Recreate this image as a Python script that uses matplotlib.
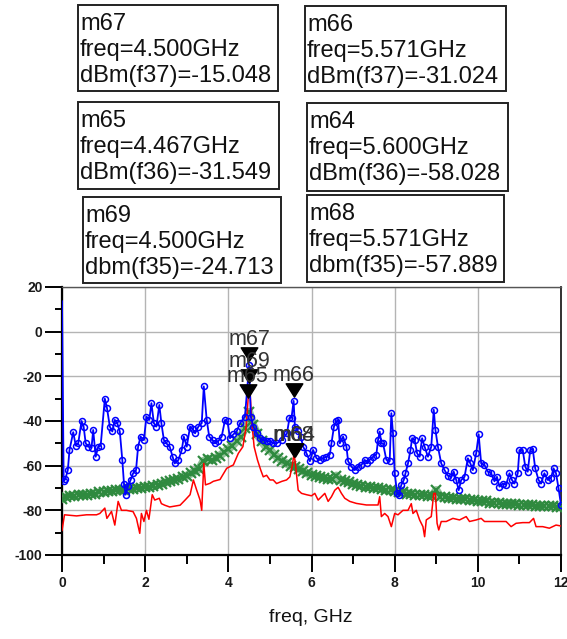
import matplotlib
matplotlib.use("Agg")
import matplotlib.pyplot as plt
from matplotlib.patches import Rectangle
from matplotlib.transforms import offset_copy
from matplotlib.path import Path

# ---------------- data ----------------
blue_freq = [0.00, 0.04, 0.08, 0.14, 0.18, 0.27, 0.33, 0.39, 0.47, 0.52, 0.57, 0.63, 0.71, 0.75, 0.81, 0.87,
             0.93, 1.03, 1.08, 1.15, 1.21, 1.27, 1.33, 1.39, 1.45, 1.49, 1.53, 1.59, 1.65, 1.71, 1.78, 1.83,
             1.89, 1.97, 2.03, 2.10, 2.15, 2.21, 2.27, 2.34, 2.39, 2.45, 2.51, 2.59, 2.66, 2.71, 2.80, 2.88,
             2.93, 3.00, 3.08, 3.14, 3.20, 3.28, 3.36, 3.41, 3.48, 3.54, 3.62, 3.68, 3.76, 3.84, 3.92, 3.98,
             4.04, 4.12, 4.20, 4.28, 4.40, 4.50, 4.54, 4.60, 4.68, 4.76, 4.84, 4.92, 5.00, 5.08, 5.16, 5.29,
             5.41, 5.47, 5.52, 5.57, 5.60, 5.68, 5.74, 5.80, 5.88, 5.96, 6.04, 6.12, 6.20, 6.28, 6.36, 6.44,
             6.48, 6.54, 6.60, 6.64, 6.68, 6.76, 6.84, 6.88, 6.96, 7.04, 7.12, 7.20, 7.28, 7.34, 7.40, 7.48,
             7.56, 7.60, 7.64, 7.68, 7.72, 7.80, 7.88, 7.92, 7.96, 8.00, 8.06, 8.10, 8.16, 8.22, 8.26, 8.32,
             8.38, 8.42, 8.48, 8.54, 8.60, 8.66, 8.72, 8.80, 8.88, 8.94, 8.98, 9.04, 9.12, 9.20, 9.28, 9.36,
             9.42, 9.48, 9.54, 9.60, 9.68, 9.76, 9.82, 9.88, 9.96, 10.02, 10.08, 10.16, 10.24, 10.32, 10.40,
             10.46, 10.52, 10.60, 10.68, 10.76, 10.82, 10.88, 10.96, 11.00, 11.08, 11.14, 11.20, 11.26, 11.32,
             11.38, 11.46, 11.52, 11.60, 11.68, 11.76, 11.82, 11.88, 11.94, 12.00]
blue_dbm = [13.6, -67, -66, -62, -53, -45, -51, -50, -40, -42.5, -50, -51.5, -52, -44, -56, -51.5,
            -51, -30, -34, -42.5, -44.7, -39.5, -41, -44.7, -57.4, -68, -73, -69, -66.4, -63.4, -62, -51.5,
            -47, -48.5, -38, -39.5, -32, -41, -42.5, -32.8, -41, -48.5, -50, -51.5, -56, -59, -57.4, -53,
            -47, -51.5, -42.5, -43.5, -45.5, -42.5, -41, -24.5, -39.5, -47, -48.5, -50, -49, -47, -39.5, -40.2,
            -47.7, -46, -44.7, -41, -38, -15.0, -38, -42.5, -45.5, -47.7, -48.5, -49, -49, -50, -50, -48.5,
            -45.5, -38.7, -38.5, -31.0, -42.5, -44.7, -47, -51.5, -54.5, -58, -53, -56.7, -57.4, -56.7, -56, -55,
            -50, -42.5, -40.2, -39.5, -50, -47, -51.5, -58, -60.4, -62, -60.4, -59.7, -57.4, -59, -57.4, -56,
            -55, -48.5, -44.7, -50, -50, -57.4, -58, -36.5, -45.5, -63.4, -72.4, -73, -68.6, -66.4, -63.4, -59,
            -53, -47.7, -48.5, -54.5, -56, -47.7, -51.5, -56, -51.5, -35, -44, -51.5, -59, -62, -64.5, -65.2,
            -62.7, -66.4, -71, -66.4, -65, -56.7, -59, -62, -54.5, -46, -59, -59.7, -62.7, -63.4, -67,
            -65, -69.4, -68, -68.6, -63.4, -66.4, -68, -63.4, -53, -53, -60.4, -62.7, -53, -52.5,
            -61.2, -66.4, -68, -63.4, -66.4, -65.5, -61.2, -63.4, -70, -77.6]

red_freq = [0.00, 0.06, 0.35, 0.59, 0.83, 0.91, 1.03, 1.08, 1.19, 1.27, 1.35, 1.43, 1.55, 1.71, 1.79, 1.87,
            1.91, 1.97, 2.03, 2.09, 2.17, 2.23, 2.34, 2.39, 2.47, 2.59, 2.84, 2.96, 3.08, 3.16, 3.24, 3.32,
            3.36, 3.41, 3.45, 3.56, 3.64, 3.80, 3.96, 4.04, 4.12, 4.24, 4.35, 4.43, 4.48, 4.52, 4.56, 4.62,
            4.70, 4.78, 4.84, 4.92, 5.00, 5.08, 5.16, 5.29, 5.40, 5.48, 5.54, 5.58, 5.62, 5.68, 5.76, 5.88,
            6.00, 6.08, 6.16, 6.24, 6.32, 6.40, 6.48, 6.56, 6.64, 6.72, 6.80, 6.92, 7.08, 7.32, 7.60, 7.64,
            7.68, 7.76, 7.84, 7.92, 8.00, 8.08, 8.20, 8.32, 8.40, 8.44, 8.52, 8.60, 8.68, 8.72, 8.76, 8.88,
            8.94, 8.98, 9.02, 9.06, 9.12, 9.24, 9.40, 9.56, 9.72, 9.80, 9.96, 10.08, 10.16, 10.36, 10.68,
            10.80, 10.92, 11.08, 11.24, 11.34, 11.40, 11.56, 11.72, 11.88, 12.00]
red_dbm = [-89, -82, -82.5, -82, -82, -81.4, -79, -83.6, -80.5, -86.6, -76, -80, -80, -80.6, -83.6, -90.3,
           -81.4, -85, -80, -84, -73, -75.4, -74.6, -77, -77.7, -78.5, -77.7, -75.4, -73, -66.4, -71, -75.4,
           -80, -59, -68.6, -67.9, -67, -66.2, -61.2, -60.4, -59.7, -54.5, -51.5, -42.5, -29, -26, -39.5, -51.5,
           -57.4, -62, -65, -64.3, -66.4, -66.4, -68, -67, -66.4, -65, -59.7, -54.5, -60.4, -71, -72.4, -73,
           -73.5, -72.4, -75.4, -73.9, -72.4, -76, -73.9, -71, -69.7, -72.4, -74.6, -76, -76.9, -77.6, -77.6, -73.9,
           -82.8, -81.4, -82.8, -87.3, -81.4, -82, -80, -80, -77, -81.4, -80, -84.3, -87.3, -91.8, -84.3, -82.8,
           -72.4, -72.4, -85.8, -88.8, -85, -85, -83.6, -84.3, -82.8, -85, -84.3, -83.6, -85, -85, -85,
           -87.3, -85.8, -85.5, -85.5, -83.6, -87.3, -87.3, -88, -86.6, -87]

green_freq = [i / 10 for i in range(121)]
green_dbm = [-75, -74, -73.5, -73.5, -73, -73, -73, -72.5, -72.5, -72,
             -72, -71.5, -71.5, -71, -71, -71, -70.5, -70.5, -70, -70,
             -69.5, -69.5, -69, -68.5, -68, -67.5, -67, -66.5, -66, -65,
             -64.5, -63.5, -62.5, -61.5, -58, -57, -57.5, -56.5, -55.5, -54,
             -52.5, -51, -49, -47, -43, -36, -42, -46, -49, -51.5,
             -53, -55, -56.5, -58, -59, -60, -60.5, -61.5, -62.5, -63.5,
             -64, -64.5, -65, -65.5, -66, -66, -64.5, -66.5, -67, -67.5,
             -68, -68.5, -69, -69.5, -69.5, -70, -70, -70.5, -71, -71,
             -71.5, -72, -72, -72.5, -72.5, -73, -73, -73, -73.5, -73.5,
             -71, -74, -74, -74.5, -74.5, -75, -75, -75, -75.5, -75.5,
             -76, -76, -76, -76.5, -76.5, -76.5, -77, -77, -77, -77,
             -77.5, -77.5, -77.5, -77.5, -78, -78, -78, -78, -78, -78.5,
             -78.5]

marker_names = ["m67", "m69", "m65", "m66", "m68", "m64"]
marker_freq = [4.500, 4.500, 4.467, 5.571, 5.571, 5.600]
marker_dbm = [-15.048, -24.713, -31.549, -31.024, -57.889, -58.028]
marker_expr = ["dBm(f37)", "dbm(f35)", "dBm(f36)", "dBm(f37)", "dbm(f35)", "dBm(f36)"]

x_ticks = [0, 2, 4, 6, 8, 10, 12]
y_ticks = [-100, -80, -60, -40, -20, 0, 20]
x_label = "freq, GHz"

# ---------------- layout ----------------
W, H = 567, 639
fig = plt.figure(figsize=(W / 100, H / 100), dpi=100)
fig.patch.set_facecolor("white")

def fx(px):
    return px / W

def fy(py):
    return 1 - py / H

ax = fig.add_axes([fx(62), fy(555), (561 - 62) / W, (555 - 287) / H])
ax.set_xlim(0, 12)
ax.set_ylim(-100, 20)

ax.set_xticks(x_ticks)
ax.set_xticks([1, 3, 5, 7, 9, 11], minor=True)
ax.set_yticks(y_ticks)
ax.set_yticks([-90, -70, -50, -30, -10, 10], minor=True)
ax.set_xticklabels([str(v) for v in x_ticks])
ax.set_yticklabels([str(v) for v in y_ticks])

for lab in ax.get_xticklabels() + ax.get_yticklabels():
    lab.set_fontfamily("Liberation Sans")
    lab.set_fontsize(10)
    lab.set_fontweight("bold")
    lab.set_color("#1a1a1a")

ax.tick_params(axis="y", which="major", direction="out", length=12, width=1.4, pad=2, color="black")
ax.tick_params(axis="y", which="minor", direction="out", length=5, width=1.4, color="black")
ax.tick_params(axis="x", which="major", direction="out", length=12, width=1.4, pad=3, color="black")
ax.tick_params(axis="x", which="minor", direction="out", length=6.5, width=1.4, color="black")

ax.grid(True, which="major", color="#b4b4b4", lw=1.0)
ax.set_axisbelow(True)
for side in ["left", "bottom"]:
    ax.spines[side].set_color("black")
    ax.spines[side].set_linewidth(1.6)
ax.spines["top"].set_color("#555555")
ax.spines["top"].set_linewidth(1.0)
ax.spines["right"].set_color("#222222")
ax.spines["right"].set_linewidth(1.3)

# traces
ax.plot(green_freq, green_dbm, ls="-", lw=6, color="#6fae78", alpha=0.75,
        solid_capstyle="round", zorder=3)
ax.plot(green_freq, green_dbm, ls="none", marker="x", ms=6.5, mew=1.6, color="#2f8a3f", zorder=3)
ax.plot(red_freq, red_dbm, color="#ff0000", lw=1.1, zorder=4)
ax.plot(blue_freq, blue_dbm, color="#0000ff", lw=1.3, marker="o", ms=4.3, mfc="none", mew=1.1,
        markevery=list(range(1, len(blue_freq))), zorder=5)

# marker triangles + labels
tri = Path([(-1, 0.8), (1, 0.8), (0, -0.8), (-1, 0.8)],
           [Path.MOVETO, Path.LINETO, Path.LINETO, Path.CLOSEPOLY])
tri_tr = offset_copy(ax.transData, fig=fig, x=0, y=7.8, units="points")
lab_tr = offset_copy(ax.transData, fig=fig, x=0, y=14.5, units="points")
for name, f, v in zip(marker_names, marker_freq, marker_dbm):
    ax.plot([f], [v], marker=tri, ms=12, color="black", ls="none", transform=tri_tr,
            clip_on=False, zorder=7)
    ax.text(f, v, name, transform=lab_tr, ha="center", va="baseline", fontsize=15.5,
            family="Liberation Sans", color="#333333", zorder=8, clip_on=False)

fig.text(fx(311), fy(622), x_label, ha="center", va="baseline", fontsize=14,
         family="Liberation Sans", color="#111111")

# marker readout boxes
boxes = {
    "m67": (78, 5, 278, 91),
    "m66": (305, 6, 506, 91),
    "m65": (78, 102, 279, 189),
    "m64": (307, 103, 508, 191),
    "m69": (83, 197, 281, 283),
    "m68": (307, 195, 504, 282),
}
for name, f, v, expr in zip(marker_names, marker_freq, marker_dbm, marker_expr):
    x0, y0, x1, y1 = boxes[name]
    fig.patches.append(Rectangle((fx(x0), fy(y1)), (x1 - x0) / W, (y1 - y0) / H,
                                 transform=fig.transFigure, fill=True, facecolor="white",
                                 edgecolor="#222222", lw=1.4, zorder=1))
    lines = [name, f"freq={f:.3f}GHz", f"{expr}={v:.3f}"]
    for i, line in enumerate(lines):
        fig.text(fx(x0 + 2), fy(y0 + 25 + 26 * i), line, ha="left", va="baseline",
                 fontsize=17, family="Liberation Sans", color="#111111", zorder=2)

fig.savefig("out.png", dpi=100, facecolor="white")
